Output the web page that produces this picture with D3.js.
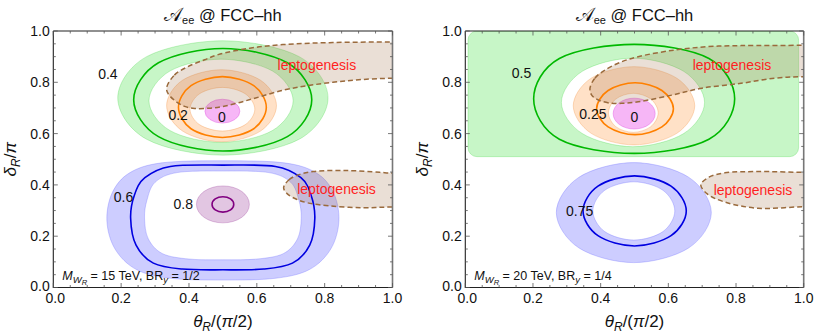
<!DOCTYPE html>
<html><head><meta charset="utf-8">
<script src="https://cdn.jsdelivr.net/npm/d3@7"></script>
<style>body{margin:0;background:#fff}svg{display:block}</style>
</head><body>
<svg id="c" width="816" height="333"></svg>
<script>
// ---------- axis ticks ----------
const tickValues = [0, 0.2, 0.4, 0.6, 0.8, 1.0];
const tickLabels = ["0.0", "0.2", "0.4", "0.6", "0.8", "1.0"];

// ---------- left panel (M_WR = 15 TeV, BR_y = 1/2) : [theta/(pi/2), delta/pi] ----------
const aGreenOuter = [[0.5,0.962],[0.725,0.9],[0.81,0.739],[0.725,0.578],[0.5,0.516],[0.275,0.578],[0.19,0.739],[0.275,0.9]];
const aGreenInner = [[0.495,0.89],[0.646,0.844],[0.707,0.728],[0.646,0.612],[0.495,0.566],[0.344,0.612],[0.282,0.728],[0.344,0.844]];
const aGreenLine  = [[0.5,0.932],[0.69,0.876],[0.762,0.732],[0.69,0.588],[0.5,0.532],[0.31,0.588],[0.237,0.732],[0.31,0.876]];
const aOrangeOuter = [[0.496,0.849],[0.611,0.808],[0.658,0.709],[0.611,0.61],[0.496,0.568],[0.381,0.61],[0.334,0.709],[0.381,0.808]];
const aOrangeInner = [[0.4985,0.78],[0.566,0.755],[0.594,0.695],[0.566,0.635],[0.4985,0.61],[0.431,0.635],[0.403,0.695],[0.431,0.755]];
const aOrangeLine  = [[0.4985,0.822],[0.591,0.787],[0.628,0.703],[0.591,0.619],[0.4985,0.585],[0.406,0.619],[0.369,0.703],[0.406,0.787]];
const aPink = [0.4985, 0.6875, 0.0515, 0.0465];
const aBlueOuter = [[0.5,0.494],[0.68,0.486],[0.775,0.447],[0.826,0.37],[0.842,0.26],[0.818,0.15],[0.755,0.07],[0.655,0.036],[0.5,0.029],[0.345,0.036],[0.245,0.07],[0.182,0.15],[0.158,0.26],[0.174,0.37],[0.225,0.447],[0.32,0.486]];
const aBlueInner = [[0.5,0.454],[0.635,0.448],[0.7,0.41],[0.724,0.34],[0.731,0.27],[0.72,0.19],[0.678,0.132],[0.6,0.111],[0.5,0.108],[0.4,0.111],[0.322,0.132],[0.28,0.19],[0.269,0.27],[0.276,0.34],[0.3,0.41],[0.365,0.448]];
const aBlueLine  = [[0.5,0.477],[0.655,0.472],[0.73,0.428],[0.76,0.36],[0.771,0.27],[0.756,0.165],[0.705,0.095],[0.62,0.072],[0.5,0.069],[0.38,0.072],[0.295,0.095],[0.244,0.165],[0.228,0.27],[0.239,0.36],[0.27,0.428],[0.345,0.472]];
const aPurpleBlob = [0.5, 0.324, 0.078, 0.072];
const aPurpleLine = [0.5, 0.324, 0.032, 0.03];
const aLeptoUpper = [[0.334,0.778],[0.357,0.828],[0.397,0.861],[0.446,0.888],[0.486,0.908],[0.579,0.933],[0.677,0.947],[0.824,0.955],[1.0,0.957],[1.12,0.957],
                     [1.12,0.817],[1.0,0.816],[0.9,0.81],[0.824,0.8],[0.75,0.787],[0.68,0.77],[0.594,0.738],[0.545,0.72],[0.5,0.706],[0.46,0.699],[0.417,0.698],[0.387,0.706],[0.357,0.73],[0.339,0.755]];
const aLeptoLower = [[0.679,0.389],[0.695,0.42],[0.72,0.438],[0.766,0.452],[0.864,0.456],[0.962,0.449],[1.0,0.446],[1.12,0.446],
                     [1.12,0.313],[1.0,0.314],[0.913,0.311],[0.815,0.318],[0.75,0.33],[0.717,0.344],[0.69,0.365]];
const aContourLabels = [["0.4",0.161,0.832],["0.2",0.368,0.673],["0",0.497,0.664],["0.6",0.207,0.354],["0.8",0.383,0.324]];
const aLeptoLabels = [[0.777,0.867],[0.835,0.383]];
const aNote = ["15", "1/2"];

// ---------- right panel (M_WR = 20 TeV, BR_y = 1/4) ----------
const bGreenOuterRect = [0.008, 0.51, 0.985, 1.0];
const bGreenInner = [[0.4955,0.894],[0.645,0.843],[0.707,0.7215],[0.645,0.6],[0.4955,0.549],[0.346,0.6],[0.284,0.7215],[0.346,0.843]];
const bGreenLine  = [[0.499,0.948],[0.72,0.893],[0.796,0.7355],[0.72,0.578],[0.499,0.523],[0.278,0.578],[0.202,0.7355],[0.278,0.893]];
const bOrangeOuter = [[0.4985,0.861],[0.625,0.816],[0.678,0.7085],[0.625,0.601],[0.4985,0.556],[0.372,0.601],[0.319,0.7085],[0.372,0.816]];
const bOrangeInner = [[0.4965,0.757],[0.548,0.735],[0.57,0.681],[0.548,0.627],[0.4965,0.605],[0.445,0.627],[0.423,0.681],[0.445,0.735]];
const bOrangeLine  = [[0.5015,0.798],[0.581,0.768],[0.615,0.697],[0.581,0.626],[0.5015,0.596],[0.422,0.626],[0.388,0.697],[0.422,0.768]];
const bPink = [0.499, 0.678, 0.062, 0.06];
const bBlueOuter = [[0.498,0.487],[0.66,0.43],[0.727,0.292],[0.66,0.154],[0.498,0.097],[0.336,0.154],[0.269,0.292],[0.336,0.43]];
const bBlueInner = [[0.498,0.412],[0.584,0.379],[0.619,0.2985],[0.584,0.218],[0.498,0.185],[0.412,0.218],[0.377,0.2985],[0.412,0.379]];
const bBlueLine  = [[0.5,0.435],[0.608,0.395],[0.653,0.2985],[0.608,0.202],[0.5,0.162],[0.392,0.202],[0.348,0.2985],[0.392,0.395]];
const bLeptoUpper = [[0.3685,0.777],[0.383,0.816],[0.413,0.848],[0.462,0.88],[0.511,0.9],[0.619,0.926],[0.717,0.939],[0.815,0.943],[1.0,0.944],[1.12,0.944],
                     [1.12,0.823],[1.0,0.822],[0.914,0.816],[0.815,0.796],[0.699,0.777],[0.61,0.75],[0.511,0.724],[0.462,0.718],[0.433,0.718],[0.393,0.731],[0.3735,0.75]];
const bLeptoLower = [[0.696,0.4],[0.72,0.43],[0.767,0.447],[0.865,0.452],[1.0,0.449],[1.12,0.449],
                     [1.12,0.315],[1.0,0.315],[0.865,0.309],[0.767,0.333],[0.715,0.365]];
const bContourLabels = [["0.5",0.166,0.835],["0.25",0.377,0.675],["0",0.5,0.666],["0.75",0.338,0.298]];
const bLeptoLabels = [[0.788,0.867],[0.85,0.38]];
const bNote = ["20", "1/4"];

// ---------- styles ----------
const C = {
  greenFill: "rgba(0,215,0,0.22)", greenEdge: "rgba(0,200,0,0.25)", greenLine: "#00b800",
  orangeFill: "rgba(255,140,40,0.26)", orangeEdge: "rgba(240,130,40,0.35)", orangeLine: "#ff8000",
  pinkFill: "rgba(238,110,238,0.5)", pinkEdge: "rgba(225,90,225,0.55)",
  blueFill: "rgba(90,90,255,0.30)", blueEdge: "rgba(90,90,255,0.35)", blueLine: "#0000e0",
  purpleFill: "rgba(150,50,150,0.28)", purpleEdge: "rgba(150,50,150,0.35)", purpleLine: "#800080",
  leptoFill: "rgba(160,110,70,0.22)", leptoLine: "#9a6a3c", red: "#ff1f1f"
};

const panels = [
  { xr: [53.3, 392.5],
    bands: [{outer: aGreenOuter, inner: aGreenInner, f: C.greenFill, e: C.greenEdge},
            {outer: aOrangeOuter, inner: aOrangeInner, f: C.orangeFill, e: C.orangeEdge},
            {outer: aBlueOuter, inner: aBlueInner, f: C.blueFill, e: C.blueEdge}],
    blobs: [{el: aPink, f: C.pinkFill, e: C.pinkEdge}, {el: aPurpleBlob, f: C.purpleFill, e: C.purpleEdge}],
    lines: [{pts: aGreenLine, c: C.greenLine}, {pts: aOrangeLine, c: C.orangeLine}, {pts: aBlueLine, c: C.blueLine}],
    ellLines: [{el: aPurpleLine, c: C.purpleLine}],
    lepto: [aLeptoUpper, aLeptoLower], labels: aContourLabels, leptoLabels: aLeptoLabels, note: aNote },
  { xr: [465.3, 803.7],
    bands: [{rect: bGreenOuterRect, inner: bGreenInner, f: C.greenFill, e: C.greenEdge},
            {outer: bOrangeOuter, inner: bOrangeInner, f: C.orangeFill, e: C.orangeEdge},
            {outer: bBlueOuter, inner: bBlueInner, f: C.blueFill, e: C.blueEdge}],
    blobs: [{el: bPink, f: C.pinkFill, e: C.pinkEdge}],
    lines: [{pts: bGreenLine, c: C.greenLine}, {pts: bOrangeLine, c: C.orangeLine}, {pts: bBlueLine, c: C.blueLine}],
    ellLines: [],
    lepto: [bLeptoUpper, bLeptoLower], labels: bContourLabels, leptoLabels: bLeptoLabels, note: bNote }
];

const svg = d3.select("#c");
const FONT = "'Liberation Sans', Arial, sans-serif";
const defs = svg.append("defs");

panels.forEach((p, i) => {
  const x = d3.scaleLinear().domain([0, 1]).range(p.xr);
  const y = d3.scaleLinear().domain([0, 1]).range([287.5, 31]);
  const g = svg.append("g");
  defs.append("clipPath").attr("id", "clip" + i).append("rect")
    .attr("x", p.xr[0]).attr("y", 31).attr("width", p.xr[1] - p.xr[0]).attr("height", 256.5);
  const plot = g.append("g").attr("clip-path", `url(#clip${i})`);
  const line = d3.line().x(d => x(d[0])).y(d => y(d[1])).curve(d3.curveCatmullRomClosed.alpha(0));
  const lineL = d3.line().x(d => x(d[0])).y(d => y(d[1])).curve(d3.curveCatmullRomClosed.alpha(0.5));

  const rrect = (r, rad) => {
    const x0 = x(r[0]), x1 = x(r[2]), y0 = y(r[3]), y1 = y(r[1]);
    return `M${x0 + rad},${y0}H${x1 - rad}A${rad},${rad} 0 0 1 ${x1},${y0 + rad}V${y1 - rad}A${rad},${rad} 0 0 1 ${x1 - rad},${y1}H${x0 + rad}A${rad},${rad} 0 0 1 ${x0},${y1 - rad}V${y0 + rad}A${rad},${rad} 0 0 1 ${x0 + rad},${y0}Z`;
  };

  p.bands.forEach(b => {
    const d = (b.rect ? rrect(b.rect, 9) : line(b.outer)) + line(b.inner);
    plot.append("path").attr("d", d).attr("fill-rule", "evenodd")
      .attr("fill", b.f).attr("stroke", b.e).attr("stroke-width", 0.8);
  });
  p.blobs.forEach(b => {
    plot.append("ellipse").attr("cx", x(b.el[0])).attr("cy", y(b.el[1]))
      .attr("rx", x(b.el[0] + b.el[2]) - x(b.el[0])).attr("ry", y(b.el[1]) - y(b.el[1] + b.el[3]))
      .attr("fill", b.f).attr("stroke", b.e).attr("stroke-width", 0.8);
  });
  p.lepto.forEach(l => {
    plot.append("path").attr("d", lineL(l)).attr("fill", C.leptoFill).attr("stroke", "none");
  });
  p.lines.forEach(l => {
    plot.append("path").attr("d", line(l.pts)).attr("fill", "none")
      .attr("stroke", l.c).attr("stroke-width", 1.6);
  });
  p.ellLines.forEach(l => {
    plot.append("ellipse").attr("cx", x(l.el[0])).attr("cy", y(l.el[1]))
      .attr("rx", x(l.el[0] + l.el[2]) - x(l.el[0])).attr("ry", y(l.el[1]) - y(l.el[1] + l.el[3]))
      .attr("fill", "none").attr("stroke", l.c).attr("stroke-width", 1.6);
  });
  p.lepto.forEach(l => {
    plot.append("path").attr("d", lineL(l)).attr("fill", "none")
      .attr("stroke", C.leptoLine).attr("stroke-width", 1.5).attr("stroke-dasharray", "5,3");
  });
  p.labels.forEach(l => {
    g.append("text").attr("x", x(l[1])).attr("y", y(l[2]) + 5)
      .attr("text-anchor", "middle").attr("font-family", FONT).attr("font-size", 14)
      .attr("fill", "#111").text(l[0]);
  });
  p.leptoLabels.forEach(l => {
    g.append("text").attr("x", x(l[0])).attr("y", y(l[1]) + 5)
      .attr("text-anchor", "middle").attr("font-family", FONT).attr("font-size", 14)
      .attr("fill", C.red).text("leptogenesis");
  });
  const note = g.append("text").attr("x", x(0) + 9).attr("y", y(0) - 8)
    .attr("font-family", FONT).attr("font-size", 12.5).attr("fill", "#111");
  note.append("tspan").attr("font-style", "italic").text("M");
  note.append("tspan").attr("font-style", "italic").attr("font-size", 9.5).attr("dy", 3).text("W");
  note.append("tspan").attr("font-style", "italic").attr("font-size", 7.5).attr("dy", 2).text("R");
  note.append("tspan").attr("dy", -5).text(` = ${p.note[0]} TeV, BR`);
  note.append("tspan").attr("font-style", "italic").attr("font-size", 9.5).attr("dy", 3).text("y");
  note.append("tspan").attr("dy", -3).text(` = ${p.note[1]}`);

  const fx0 = x(0), fx1 = x(1), fy0 = y(0), fy1 = y(1);
  g.append("path").attr("d", `M${fx0},${fy1}H${fx1}M${fx0},${fy1}V${fy0}H${fx1}`)
    .attr("fill", "none").attr("stroke", "#222").attr("stroke-width", 1.1);
  g.append("path").attr("d", `M${fx1},${fy1}V${fy0}`)
    .attr("fill", "none").attr("stroke", "#777").attr("stroke-width", 1.6);

  const minor = d3.range(0, 1.0001, 0.05).filter(v => Math.abs(Math.round(v * 5) - v * 5) > 1e-6);
  const tk = g.append("g").attr("stroke", "#555").attr("stroke-width", 0.8);
  const addTicks = (vals, len) => vals.forEach(v => {
    tk.append("line").attr("x1", x(v)).attr("x2", x(v)).attr("y1", fy0).attr("y2", fy0 - len);
    tk.append("line").attr("x1", x(v)).attr("x2", x(v)).attr("y1", fy1).attr("y2", fy1 + len);
    tk.append("line").attr("y1", y(v)).attr("y2", y(v)).attr("x1", fx0).attr("x2", fx0 + len);
    tk.append("line").attr("y1", y(v)).attr("y2", y(v)).attr("x1", fx1).attr("x2", fx1 - len);
  });
  addTicks(tickValues, 4.5);
  addTicks(minor, 2.5);

  tickValues.forEach((v, k) => {
    g.append("text").attr("x", x(v) + (k === 0 ? 2 : 0)).attr("y", fy0 + 15).attr("text-anchor", "middle")
      .attr("font-family", FONT).attr("font-size", 14).attr("fill", "#111").text(tickLabels[k]);
    g.append("text").attr("x", fx0 - 3.5).attr("y", y(v) + (k === 0 ? 3.5 : 5)).attr("text-anchor", "end")
      .attr("font-family", FONT).attr("font-size", 14).attr("fill", "#111").text(tickLabels[k]);
  });

  const cx = (fx0 + fx1) / 2;
  const t = g.append("text").attr("x", cx).attr("y", 21).attr("text-anchor", "middle")
    .attr("font-family", FONT).attr("font-size", 16.5).attr("fill", "#111");
  t.append("tspan").attr("font-size", 19).text("𝒜");
  t.append("tspan").attr("font-size", 11).attr("dy", 3).text("ee");
  t.append("tspan").attr("dy", -3).text(" @ FCC\u2013hh");

  const xt = g.append("text").attr("x", cx).attr("y", 327).attr("text-anchor", "middle")
    .attr("font-family", FONT).attr("font-size", 17).attr("fill", "#111");
  xt.append("tspan").attr("font-style", "italic").text("θ");
  xt.append("tspan").attr("font-style", "italic").attr("font-size", 12).attr("dy", 4).text("R");
  xt.append("tspan").attr("dy", -4).text("/(");
  xt.append("tspan").attr("font-style", "italic").text("π");
  xt.append("tspan").text("/2)");

  const yx = fx0 - 37, yy = (fy0 + fy1) / 2;
  const yt = g.append("text").attr("transform", `translate(${yx},${yy}) rotate(-90)`)
    .attr("text-anchor", "middle").attr("font-family", FONT).attr("font-size", 17).attr("fill", "#111");
  yt.append("tspan").attr("font-style", "italic").text("δ");
  yt.append("tspan").attr("font-style", "italic").attr("font-size", 12).attr("dy", 4).text("R");
  yt.append("tspan").attr("dy", -4).text("/");
  yt.append("tspan").attr("font-style", "italic").text("π");
});
</script>
</body></html>
